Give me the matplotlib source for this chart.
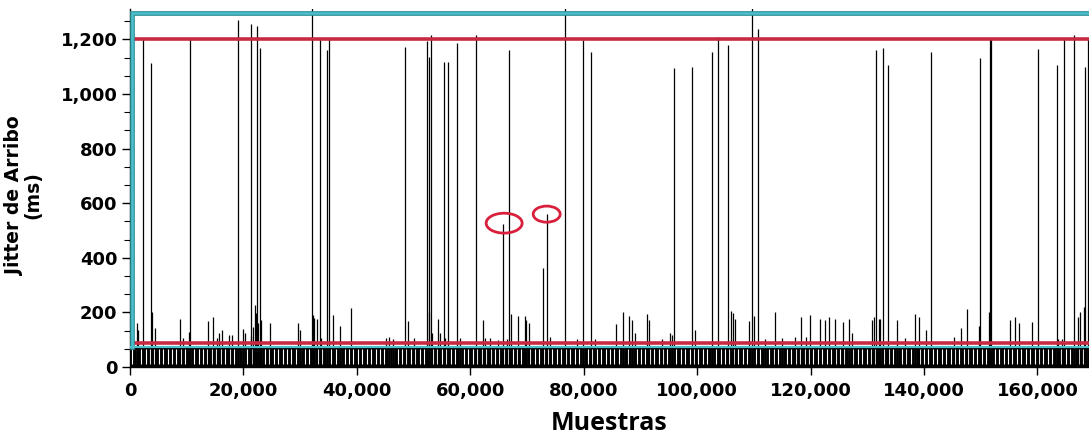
"""Jitter de arribo por muestra: picos aislados sobre una banda base densa."""

import matplotlib.pyplot as plt
import numpy as np
from matplotlib.patches import Ellipse
from matplotlib.ticker import AutoMinorLocator, FuncFormatter, MultipleLocator

# picos altos (muestra, jitter ms); los > 1300 quedan cortados por el borde
TALL_X = [2350, 3650, 10580, 19110, 21350, 22350, 22930, 32170, 33520, 34700,
          35160, 48400, 52400, 52760, 53100, 55390, 56150, 57630, 61030, 66850,
          76730, 79960, 81270, 95960, 99020, 102660, 103670, 105370, 109670,
          110730, 131600, 132710, 133650, 141240, 149820, 151580, 151830,
          160050, 163470, 164640, 166520, 168460, 169000]
TALL_Y = [1204, 1112, 1204, 1271, 1255, 1250, 1167, 1320, 1204, 1161,
          1204, 1173, 1194, 1137, 1216, 1116, 1116, 1186, 1216, 1161,
          1320, 1198, 1155, 1094, 1100, 1155, 1210, 1179, 1320,
          1240, 1161, 1168, 1106, 1155, 1133, 1204, 1204,
          1165, 1106, 1204, 1216, 1100, 1204]

# picos intermedios (los marcados con elipse)
MID_X = [65850, 72900, 73500]
MID_Y = [524, 363, 560]

# picos pequenos por encima de la banda
SMALL_X = [1180, 1470, 3820, 4410, 8820, 9410, 10470, 13700, 14580, 15290,
           15700, 16170, 17460, 18050, 19990, 20290, 21340, 21760, 22050,
           22230, 22520, 23110, 24700, 29690, 29990, 32220, 32510, 32930,
           33690, 35870, 37040, 38980, 45100, 45740, 46450, 49100, 50150,
           52740, 53220, 54270, 54690, 55570, 58210, 62210, 62620, 63500,
           64970, 66450, 67210, 68390, 69730, 69910, 70440, 74090, 78790,
           82030, 85730, 86910, 88020, 88500, 88960, 91140, 91500, 93790,
           95140, 95550, 99670, 105960, 106310, 106720, 109070, 109950,
           112010, 113650, 114960, 117310, 118310, 119250, 119950, 121590,
           122600, 123180, 124240, 125720, 126780, 127310, 130840, 131240,
           132000, 132300, 135250, 136590, 138470, 139060, 140420, 145230,
           146540, 147590, 149640, 151410, 155110, 155990, 156820, 159060,
           163580, 164350, 167110, 167580, 168290]
SMALL_Y = [160, 136, 203, 142, 176, 106, 128, 170, 183, 106,
           125, 136, 117, 117, 138, 125, 113, 148, 227,
           197, 160, 172, 160, 161, 136, 190, 180, 175,
           106, 190, 150, 215, 106, 110, 102, 170, 106,
           203, 125, 175, 125, 106, 106, 172, 106, 106,
           100, 102, 193, 187, 187, 172, 161, 110, 102,
           102, 157, 200, 188, 172, 126, 194, 172, 102,
           126, 117, 136, 206, 197, 175, 170, 187,
           102, 200, 106, 110, 182, 110, 190, 175,
           172, 182, 175, 166, 175, 126, 172, 185,
           175, 175, 172, 106, 193, 185, 136, 110,
           142, 212, 150, 203, 172, 182, 161, 166,
           102, 102, 182, 203, 221]

BAND_TOP = 70        # banda base de jitter normal
GAP_PERIOD = 780     # separacion de los huecos blancos de la banda
LIMIT_HIGH = 1200
LIMIT_LOW = 88
BOX_LOW, BOX_HIGH = 75, 1297

XMAX = 169100
YMAX = 1310

RED = "#c62a40"
CYAN = "#4cbfca"
TEAL = "#2d8e98"


def main():
    fig = plt.figure(figsize=(10.89, 4.38), dpi=100)
    ax = fig.add_axes([0.1194, 0.1621, 0.8806, 0.8164])

    # banda base
    ax.fill_between([0, XMAX], 0, BAND_TOP, color="black", lw=0, zorder=1)
    gaps = np.arange(GAP_PERIOD / 2, XMAX, GAP_PERIOD)
    ax.vlines(gaps, 10, BAND_TOP - 3, color="white", lw=0.8, zorder=2)

    ax.vlines(SMALL_X, 0, SMALL_Y, color="black", lw=0.9, zorder=3)
    ax.vlines(MID_X, 0, MID_Y, color="black", lw=0.9, zorder=3)
    ax.vlines(TALL_X, 0, TALL_Y, color="black", lw=0.9, zorder=3)

    # limites en rojo
    ax.plot([600, XMAX], [LIMIT_HIGH, LIMIT_HIGH], color=RED, lw=2.6, zorder=4)
    ax.plot([600, XMAX], [LIMIT_LOW, LIMIT_LOW], color=RED, lw=2.6, zorder=4)

    # recuadro cian
    bx = [350, 350, XMAX]
    by = [BOX_LOW, BOX_HIGH, BOX_HIGH]
    ax.plot(bx, by, color=TEAL, lw=3.4, zorder=5, clip_on=False,
            solid_joinstyle="miter")
    ax.plot(bx, by, color=CYAN, lw=1.8, zorder=5, clip_on=False,
            solid_joinstyle="miter")
    ax.plot([0, XMAX], [BOX_LOW, BOX_LOW], color=CYAN, lw=1.6, zorder=5)

    # elipses de anotacion
    for (cx, cy, w, h) in [(65970, 527, 6350, 73), (73470, 560, 4760, 59)]:
        ax.add_patch(Ellipse((cx, cy), w, h, fill=False, ec="#d8203c",
                             lw=2.0, zorder=6))

    ax.set_xlim(0, XMAX)
    ax.set_ylim(0, YMAX)
    ax.xaxis.set_major_locator(MultipleLocator(20000))
    ax.yaxis.set_major_locator(MultipleLocator(200))
    ax.yaxis.set_minor_locator(AutoMinorLocator(3))
    fmt = FuncFormatter(lambda v, _: f"{v:,.0f}")
    ax.xaxis.set_major_formatter(fmt)
    ax.yaxis.set_major_formatter(fmt)

    for s in ["top", "right"]:
        ax.spines[s].set_visible(False)
    for s in ["left", "bottom"]:
        ax.spines[s].set_linewidth(1.0)

    ax.tick_params(axis="both", which="major", length=6, width=1.0,
                   labelsize=13, pad=3)
    ax.tick_params(axis="y", which="minor", length=4, width=0.8)
    for lab in ax.get_xticklabels() + ax.get_yticklabels():
        lab.set_fontweight("bold")
    ax.tick_params(axis="x", pad=5)

    ax.set_xlabel("Muestras", fontsize=18, fontweight="bold",
                  family=["Open Sans", "DejaVu Sans"], labelpad=8)
    ax.set_ylabel("Jitter de Arribo\n(ms)", fontsize=13.5, fontweight="bold",
                  linespacing=1.0)
    ax.yaxis.set_label_coords(-0.091, 0.48)

    fig.savefig("out.png", dpi=100)


if __name__ == "__main__":
    main()
